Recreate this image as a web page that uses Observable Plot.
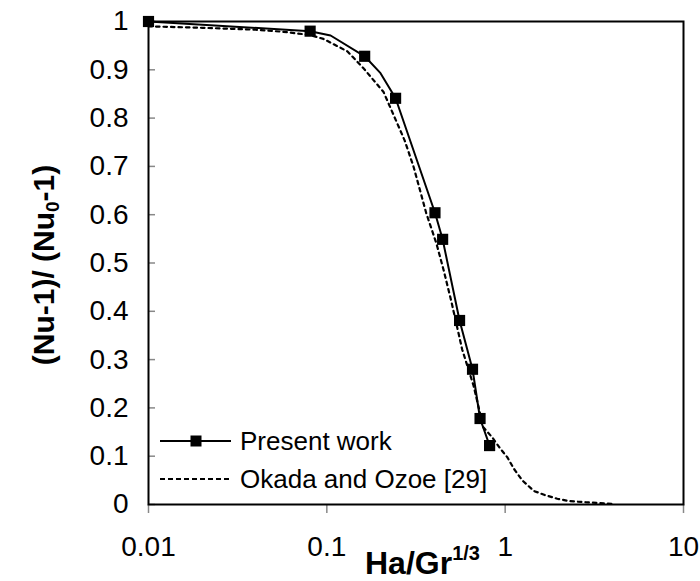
<!DOCTYPE html>
<html>
<head>
<meta charset="utf-8">
<script src="https://cdn.jsdelivr.net/npm/d3@7"></script>
<script src="https://cdn.jsdelivr.net/npm/@observablehq/plot@0.6"></script>
<style>
  body { margin: 0; background: #fff; }
  #wrap { position: relative; width: 700px; height: 581px; font-family: "Liberation Sans", Arial, sans-serif; }
</style>
</head>
<body>
<div id="wrap"></div>
<script>
// ---- data ----
const xTicks = [0.01, 0.1, 1, 10];
const xTickLabels = ["0.01", "0.1", "1", "10"];
const yTicks = [0, 0.1, 0.2, 0.3, 0.4, 0.5, 0.6, 0.7, 0.8, 0.9, 1];
const yTickLabels = ["0", "0.1", "0.2", "0.3", "0.4", "0.5", "0.6", "0.7", "0.8", "0.9", "1"];

// Present work (markers)
const presentX = [0.01, 0.0806, 0.163, 0.243, 0.404, 0.446, 0.555, 0.656, 0.723, 0.818];
const presentY = [1.0, 0.980, 0.928, 0.841, 0.604, 0.549, 0.381, 0.280, 0.178, 0.122];
// Present work (line, includes unmarked points)
const presentLineX = [0.01, 0.0806, 0.105, 0.163, 0.200, 0.243, 0.404, 0.446, 0.555, 0.656, 0.723, 0.818];
const presentLineY = [1.0, 0.980, 0.971, 0.928, 0.893, 0.841, 0.604, 0.549, 0.381, 0.280, 0.178, 0.122];

// Okada and Ozoe [29]
const okadaX = [0.01, 0.02, 0.04, 0.06, 0.08, 0.0957, 0.1306, 0.1607, 0.208, 0.273, 0.306, 0.338, 0.361, 0.412, 0.452, 0.498, 0.574, 0.665, 0.754, 0.846, 0.942, 1.027, 1.119, 1.247, 1.449, 1.685, 1.96, 2.277, 3.01, 3.99];
const okadaY = [0.990, 0.987, 0.983, 0.978, 0.972, 0.964, 0.938, 0.903, 0.854, 0.754, 0.700, 0.642, 0.603, 0.540, 0.485, 0.422, 0.321, 0.246, 0.160, 0.139, 0.115, 0.098, 0.074, 0.050, 0.028, 0.019, 0.012, 0.007, 0.004, 0.0014];

const seriesNames = ["Present work", "Okada and Ozoe [29]"];
const xTitle = "Ha/Gr";
const xTitleSup = "1/3";

// ---- tables ----
const present = presentX.map((x, i) => ({x, y: presentY[i]}));
const presentLine = presentLineX.map((x, i) => ({x, y: presentLineY[i]}));
const okada = okadaX.map((x, i) => ({x, y: okadaY[i]}));

const FONT = "Liberation Sans, Arial, sans-serif";

const chart = Plot.plot({
  width: 700,
  height: 581,
  marginLeft: 148,
  marginRight: 17,
  marginTop: 21,
  marginBottom: 77,
  style: { fontFamily: FONT, background: "#fff", color: "#000" },
  x: { type: "log", domain: [0.01, 10], label: null },
  y: { domain: [0, 1], label: null },
  marks: [
    // y ticks (inside)
    Plot.axisY({ ticks: yTicks, tickSize: 7, dx: 7, tickFormat: () => "", stroke: "#888", strokeWidth: 1.5 }),
    // y labels
    Plot.axisY({ ticks: yTicks, tickSize: 0, tickPadding: 20, tickFormat: d => yTickLabels[yTicks.indexOf(d)], fill: "#000" }),
    // x ticks (outside) + labels
    Plot.axisX({ ticks: xTicks, tickSize: 9, tickPadding: 23, tickFormat: d => xTickLabels[xTicks.indexOf(d)], stroke: "#888", strokeWidth: 1.5, fill: "#000" }),
    Plot.line(okada, { x: "x", y: "y", stroke: "#000", strokeWidth: 2.2, strokeDasharray: "3.5,4" }),
    Plot.line(presentLine, { x: "x", y: "y", stroke: "#000", strokeWidth: 2 }),
    Plot.dot(present, { x: "x", y: "y", symbol: "square", r: 6.3, fill: "#000", stroke: "none" }),
    Plot.frame({ stroke: "#000", strokeWidth: 2 })
  ]
});

document.getElementById("wrap").appendChild(chart);

const svg = d3.select(chart);
// tick labels (all Plot-created texts)
svg.selectAll("text").style("font-size", "28px").attr("font-size", 28);

// Y title
const yt = svg.append("text")
  .attr("transform", "translate(54,265) rotate(-90)")
  .attr("text-anchor", "middle")
  .attr("font-family", FONT)
  .attr("font-weight", "bold")
  .attr("font-size", 30)
  .attr("fill", "#000");
yt.append("tspan").text("(Nu-1)/ (Nu");
yt.append("tspan").attr("font-size", 19).attr("dy", 5).text("0");
yt.append("tspan").attr("dy", -5).text("-1)");

// X title
const xt = svg.append("text")
  .attr("x", 365)
  .attr("y", 574)
  .attr("text-anchor", "start")
  .attr("font-family", FONT)
  .attr("font-weight", "bold")
  .attr("font-size", 32)
  .attr("fill", "#000");
xt.append("tspan").text(xTitle);
xt.append("tspan").attr("font-size", 20).attr("dy", -14).text(xTitleSup);

// Legend
const lg = svg.append("g").attr("font-family", FONT).attr("font-size", 26).attr("fill", "#000").attr("text-anchor", "start");
lg.append("line").attr("x1", 160).attr("x2", 231).attr("y1", 441).attr("y2", 441).attr("stroke", "#000").attr("stroke-width", 2);
lg.append("rect").attr("x", 190.5).attr("y", 435.5).attr("width", 11).attr("height", 11).attr("fill", "#000");
lg.append("text").attr("x", 240).attr("y", 450).text(seriesNames[0]);
lg.append("line").attr("x1", 160).attr("x2", 231).attr("y1", 479).attr("y2", 479).attr("stroke", "#000").attr("stroke-width", 2).attr("stroke-dasharray", "5,3");
lg.append("text").attr("x", 240).attr("y", 488).text(seriesNames[1]);
</script>
</body>
</html>
